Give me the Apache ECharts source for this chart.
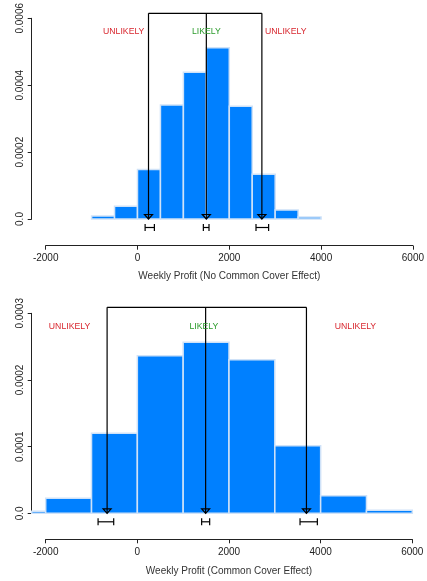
<!DOCTYPE html>
<html><head><meta charset="utf-8">
<script src="https://cdn.jsdelivr.net/npm/echarts@6/dist/echarts.min.js"></script>
<style>html,body{margin:0;padding:0;background:#fff}#c{width:427px;height:581px}</style>
</head><body><div id="c"></div>
<script>
// ---- data ----
const topBinEdges = [-1000,-500,0,500,1000,1500,2000,2500,3000,3500,4000];
const topDensity = [0.000009,0.000038,0.000148,0.000341,0.000439,0.000512,0.000337,0.000134,0.000027,0.000006];
const bottomBinEdges = [-3000,-2000,-1000,0,1000,2000,3000,4000,5000,6000];
const bottomDensity = [0.000003,0.0000225,0.00012,0.0002365,0.0002565,0.0002305,0.0001015,0.0000265,0.0000045];

const topMarkers = [240, 1500, 2710];
const topIntervals = [[166,368],[1435,1558],[2582,2857]];
const bottomMarkers = [-660, 1490, 3690];
const bottomIntervals = [[-857,-516],[1403,1578],[3550,3928]];

const topBracketY = 0.000615;
const bottomBracketY = 0.000309;

const zoneLabels = ['UNLIKELY','LIKELY','UNLIKELY'];
const zoneColors = ['#d8262e','#2a9a2a','#d8262e'];
const topLabelX = [-300, 1500, 3230];
const topLabelY = 0.00056;
const bottomLabelX = [-1480, 1450, 4760];
const bottomLabelY = 0.00028;

const xTicks = [-2000, 0, 2000, 4000, 6000];
const topYTicks = [0, 0.0002, 0.0004, 0.0006];
const bottomYTicks = [0, 0.0001, 0.0002, 0.0003];
const topXTitle = 'Weekly Profit (No Common Cover Effect)';
const bottomXTitle = 'Weekly Profit (Common Cover Effect)';

// ---- build ----
const FONT = "'Liberation Sans', Arial, Helvetica, sans-serif";
function bins(edges, dens){ return dens.map((d,i)=>[edges[i], edges[i+1], d]); }

function barItem(params, api){
  const s=api.value(0), e=api.value(1), v=api.value(2);
  const p0=api.coord([s,0]), p1=api.coord([e,v]);
  const cs=params.coordSys;
  const shape=echarts.graphic.clipRectByRect(
    {x:p0[0], y:p1[1], width:p1[0]-p0[0], height:p0[1]-p1[1]},
    {x:cs.x-14, y:cs.y-30, width:cs.width+14, height:cs.height+60});
  if(!shape) return;
  return {type:'rect', shape:shape, style:{fill:'#0080ff', stroke:'#cfe2f8', lineWidth:1.5}};
}
function markerItem(topY){
  return function(params, api){
    const x=api.value(0), lo=api.value(1), hi=api.value(2);
    const pt=api.coord([x, topY]), pb=api.coord([x, 0]);
    const eb=pb[1]+8.5;
    const l=api.coord([lo,0])[0], h=api.coord([hi,0])[0];
    const st={stroke:'#000', lineWidth:1.2, fill:null};
    return {type:'group', children:[
      {type:'line', shape:{x1:pt[0],y1:pt[1],x2:pb[0],y2:pb[1]}, style:st},
      {type:'polygon', shape:{points:[[pb[0]-4,pb[1]-4.5],[pb[0]+4,pb[1]-4.5],[pb[0],pb[1]]]}, style:{stroke:'#000', lineWidth:1.2, fill:'none'}},
      {type:'line', shape:{x1:l,y1:eb,x2:h,y2:eb}, style:st},
      {type:'line', shape:{x1:l,y1:eb-3.5,x2:l,y2:eb+3.5}, style:st},
      {type:'line', shape:{x1:h,y1:eb-3.5,x2:h,y2:eb+3.5}, style:st}
    ]};
  };
}
function bracketItem(params, api){
  const a=api.coord([api.value(0), api.value(2)]), b=api.coord([api.value(1), api.value(2)]);
  return {type:'line', shape:{x1:a[0],y1:a[1],x2:b[0],y2:b[1]}, style:{stroke:'#000', lineWidth:1.2}};
}
function labelItem(params, api){
  const p=api.coord([api.value(0), api.value(1)]);
  return {type:'text', x:p[0], y:p[1], style:{text:zoneLabels[params.dataIndex], fill:zoneColors[params.dataIndex],
    font:'8.7px '+FONT, textAlign:'center', textVerticalAlign:'middle'}};
}

function xAxis(gi, name, offset, gap){
  return {gridIndex:gi, type:'value', min:xTicks[0], max:xTicks[xTicks.length-1], interval:2000,
    offset:offset, position:'bottom',
    axisLine:{show:true, onZero:false, lineStyle:{color:'#222', width:1}},
    axisTick:{show:true, length:4, lineStyle:{color:'#222'}},
    axisLabel:{color:'#222', fontSize:10, fontFamily:FONT, margin:8, formatter:v=>String(v)},
    splitLine:{show:false},
    name:name, nameLocation:'middle', nameGap:gap, nameTextStyle:{color:'#333', fontSize:10, fontFamily:FONT}};
}
function yAxis(gi, ticks){
  return {gridIndex:gi, type:'value', min:ticks[0], max:ticks[ticks.length-1], interval:ticks[1]-ticks[0],
    offset:14, position:'left',
    axisLine:{show:true, onZero:false, lineStyle:{color:'#222', width:1}},
    axisTick:{show:true, length:4, lineStyle:{color:'#222'}},
    axisLabel:{color:'#222', fontSize:10, fontFamily:FONT, rotate:90, margin:6,
      formatter:v=> v===0 ? '0.0' : v.toFixed(4)},
    splitLine:{show:false}};
}

const option = {
  animation:false,
  grid:[
    {left:45.7, right:11.7, top:16.7, height:202.3},
    {left:45.7, right:14.7, top:313.3, height:200}
  ],
  xAxis:[xAxis(0, topXTitle, 26.7, 26), xAxis(1, bottomXTitle, 26, 27)],
  yAxis:[yAxis(0, topYTicks), yAxis(1, bottomYTicks)],
  series:[
    {type:'custom', xAxisIndex:0, yAxisIndex:0, clip:false, renderItem:barItem, data:bins(topBinEdges, topDensity)},
    {type:'custom', xAxisIndex:1, yAxisIndex:1, clip:false, renderItem:barItem, data:bins(bottomBinEdges, bottomDensity)},
    {type:'custom', xAxisIndex:0, yAxisIndex:0, clip:false, renderItem:markerItem(topBracketY),
      data:topMarkers.map((m,i)=>[m, topIntervals[i][0], topIntervals[i][1]])},
    {type:'custom', xAxisIndex:1, yAxisIndex:1, clip:false, renderItem:markerItem(bottomBracketY),
      data:bottomMarkers.map((m,i)=>[m, bottomIntervals[i][0], bottomIntervals[i][1]])},
    {type:'custom', xAxisIndex:0, yAxisIndex:0, clip:false, renderItem:bracketItem,
      data:[[topMarkers[0], topMarkers[topMarkers.length-1], topBracketY]]},
    {type:'custom', xAxisIndex:1, yAxisIndex:1, clip:false, renderItem:bracketItem,
      data:[[bottomMarkers[0], bottomMarkers[bottomMarkers.length-1], bottomBracketY]]},
    {type:'custom', xAxisIndex:0, yAxisIndex:0, clip:false, renderItem:labelItem,
      data:topLabelX.map(x=>[x, topLabelY])},
    {type:'custom', xAxisIndex:1, yAxisIndex:1, clip:false, renderItem:labelItem,
      data:bottomLabelX.map(x=>[x, bottomLabelY])}
  ]
};
const chart = echarts.init(document.getElementById('c'), null, {renderer:'canvas'});
chart.setOption(option);
</script></body></html>
